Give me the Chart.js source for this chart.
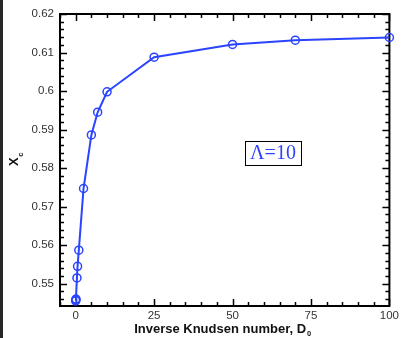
<!DOCTYPE html>
<html>
<head>
<meta charset="utf-8">
<script src="https://cdn.jsdelivr.net/npm/chart.js@4"></script>
<style>
  html, body { margin: 0; padding: 0; background: #fff; }
  #wrap { position: relative; width: 402px; height: 338px; }
  #strip { position: absolute; left: 0; top: 0; width: 3px; height: 338px; background: #262626; }
</style>
</head>
<body>
<div id="wrap">
  <canvas id="xcChart" width="402" height="338"></canvas>
  <div id="strip"></div>
</div>
<script>
// inverse Knudsen number D0 and critical position Xc
const d0Values = [0, 0.05, 0.1, 0.4, 0.6, 1, 2.5, 5, 7, 10, 25, 50, 70, 100];
const xcValues = [0.5455, 0.5458, 0.546, 0.5515, 0.5545, 0.5587, 0.5747, 0.5886, 0.5945, 0.5998, 0.6088, 0.6121, 0.6132, 0.6139];

const xTicks = [0, 25, 50, 75, 100];
const yTicks = [0.55, 0.56, 0.57, 0.58, 0.59, 0.6, 0.61, 0.62];

const blue = '#2a44ff';

// frame with inward major/minor ticks on all four sides
const framePlugin = {
  id: 'frame',
  beforeDatasetsDraw(chart) {
    const { ctx, chartArea: a, scales } = chart;
    const xs = scales.x, ys = scales.y;
    ctx.save();
    ctx.strokeStyle = '#000';
    ctx.lineWidth = 1.5;
    ctx.beginPath();
    for (let v = -5; v <= 100.001; v += 5) {
      const px = Math.round(xs.getPixelForValue(v)) + 0.5;
      const len = v % 25 === 0 ? 7 : 4;
      ctx.moveTo(px, a.bottom); ctx.lineTo(px, a.bottom - len);
      ctx.moveTo(px, a.top); ctx.lineTo(px, a.top + len);
    }
    for (let i = 0; ; i++) {
      const v = 0.546 + i * 0.002;
      if (v > 0.6201) break;
      const py = Math.round(ys.getPixelForValue(v)) + 0.5;
      const len = i % 5 === 2 ? 7 : 4;
      ctx.moveTo(a.left, py); ctx.lineTo(a.left + len, py);
      ctx.moveTo(a.right, py); ctx.lineTo(a.right - len, py);
    }
    ctx.stroke();
    ctx.lineWidth = 2;
    ctx.strokeRect(a.left, a.top, a.right - a.left, a.bottom - a.top);
    ctx.restore();
  },
  afterDraw(chart) {
    const { ctx, chartArea: a, scales } = chart;
    ctx.save();
    ctx.fillStyle = '#111';
    ctx.textBaseline = 'alphabetic';
    ctx.textAlign = 'left';

    // x axis title with subscript
    ctx.font = 'bold 13px "Liberation Sans", Arial, sans-serif';
    const main = 'Inverse Knudsen number, D';
    const w1 = ctx.measureText(main).width;
    ctx.font = 'bold 7.5px "Liberation Sans", Arial, sans-serif';
    const w2 = ctx.measureText('0').width;
    const x0 = (a.left + a.right) / 2 - 2 - (w1 + w2 + 1) / 2;
    ctx.font = 'bold 13px "Liberation Sans", Arial, sans-serif';
    ctx.fillText(main, x0, 333);
    ctx.font = 'bold 7.5px "Liberation Sans", Arial, sans-serif';
    ctx.fillText('0', x0 + w1 + 1, 336);

    // y axis title, rotated
    ctx.translate(17.5, 166);
    ctx.rotate(-Math.PI / 2);
    ctx.font = 'bold 13px "Liberation Sans", Arial, sans-serif';
    ctx.fillText('X', 0, 0);
    const wx = ctx.measureText('X').width;
    ctx.font = 'bold 7.5px "Liberation Sans", Arial, sans-serif';
    ctx.fillText('c', wx + 0.5, 5);
    ctx.restore();

    // boxed parameter label
    ctx.save();
    const cx = Math.round(scales.x.getPixelForValue(63));
    const cy = Math.round(scales.y.getPixelForValue(0.5838));
    ctx.strokeStyle = '#000';
    ctx.lineWidth = 1;
    ctx.strokeRect(cx - 28 + 0.5, cy - 12 + 0.5, 56, 24);
    ctx.fillStyle = blue;
    ctx.font = '20px "Liberation Serif", "Times New Roman", serif';
    ctx.textAlign = 'center';
    ctx.textBaseline = 'middle';
    ctx.fillText('\u039B=10', cx, cy + 1);
    ctx.restore();
  }
};

new Chart(document.getElementById('xcChart'), {
  type: 'scatter',
  data: {
    datasets: [{
      data: d0Values.map((x, i) => ({ x: x, y: xcValues[i] })),
      showLine: true,
      borderColor: blue,
      borderWidth: 2,
      pointRadius: 4,
      pointBorderWidth: 1.5,
      pointBorderColor: blue,
      pointBackgroundColor: 'rgba(0,0,0,0)',
      clip: false
    }]
  },
  options: {
    responsive: false,
    animation: false,
    devicePixelRatio: 1,
    layout: { padding: { left: 0, top: 14, right: 9, bottom: 0 } },
    plugins: { legend: { display: false }, tooltip: { enabled: false } },
    scales: {
      x: {
        type: 'linear',
        min: -5,
        max: 100,
        afterBuildTicks: s => { s.ticks = xTicks.map(v => ({ value: v })); },
        afterFit: s => { s.height = 32; },
        grid: { display: false, drawTicks: false },
        border: { display: false },
        ticks: {
          padding: 3,
          color: '#333',
          font: { family: '"Liberation Sans", Arial, sans-serif', size: 11.5 }
        }
      },
      y: {
        type: 'linear',
        min: 0.5442,
        max: 0.62,
        afterBuildTicks: s => { s.ticks = yTicks.map(v => ({ value: v })); },
        afterFit: s => { s.width = 60; },
        grid: { display: false, drawTicks: false },
        border: { display: false },
        ticks: {
          padding: 6,
          color: '#333',
          font: { family: '"Liberation Sans", Arial, sans-serif', size: 11.5 },
          callback: v => String(Number(v.toFixed(2)))
        }
      }
    }
  },
  plugins: [framePlugin]
});
</script>
</body>
</html>
